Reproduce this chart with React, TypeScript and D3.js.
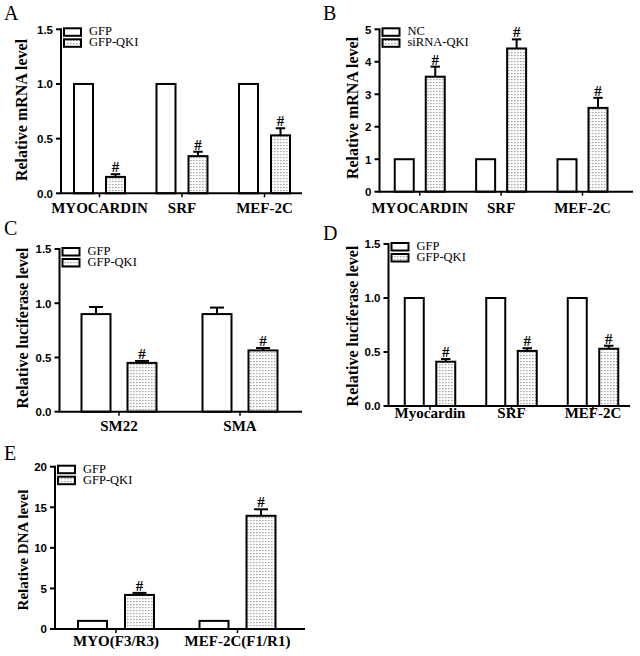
import React from "react";
import * as d3 from "d3";

// ---------- DATA ----------
// Panel A
const catsA = ["MYOCARDIN", "SRF", "MEF-2C"];
const seriesA = ["GFP", "GFP-QKI"];
const ctrlA = [1, 1, 1];
const ctrlErrA = [0, 0, 0];
const trtA = [0.15, 0.34, 0.53];
const trtErrA = [0.025, 0.04, 0.065];
const ticksA = [0, 0.5, 1.0, 1.5];

// Panel B
const catsB = ["MYOCARDIN", "SRF", "MEF-2C"];
const seriesB = ["NC", "siRNA-QKI"];
const ctrlB = [1, 1, 1];
const ctrlErrB = [0, 0, 0];
const trtB = [3.54, 4.41, 2.58];
const trtErrB = [0.31, 0.28, 0.31];
const ticksB = [0, 1, 2, 3, 4, 5];

// Panel C
const catsC = ["SM22", "SMA"];
const seriesC = ["GFP", "GFP-QKI"];
const ctrlC = [0.9, 0.9];
const ctrlErrC = [0.065, 0.06];
const trtC = [0.45, 0.565];
const trtErrC = [0.018, 0.022];
const ticksC = [0, 0.5, 1.0, 1.5];

// Panel D
const catsD = ["Myocardin", "SRF", "MEF-2C"];
const seriesD = ["GFP", "GFP-QKI"];
const ctrlD = [1, 1, 1];
const ctrlErrD = [0, 0, 0];
const trtD = [0.41, 0.51, 0.53];
const trtErrD = [0.025, 0.025, 0.028];
const ticksD = [0, 0.5, 1.0, 1.5];

// Panel E
const catsE = ["MYO(F3/R3)", "MEF-2C(F1/R1)"];
const seriesE = ["GFP", "GFP-QKI"];
const ctrlE = [1, 1];
const ctrlErrE = [0, 0];
const trtE = [4.2, 13.95];
const trtErrE = [0.25, 0.8];
const ticksE = [0, 5, 10, 15, 20];

const SERIF = "'Liberation Serif', 'Times New Roman', serif";
const SANS = "'Liberation Sans', Arial, sans-serif";

type PanelProps = {
  id: string;
  letter: string;
  cats: string[];
  series: string[];
  ctrl: number[];
  ctrlErr: number[];
  trt: number[];
  trtErr: number[];
  ticks: number[];
  tickFmt: (v: number) => string;
  yTitle: string;
  axisX: number;
  axisEnd: number;
  yTopPx: number;
  y0Px: number;
  c0: number;
  cN: number;
  barW: number;
  offset: number;
  letterX: number;
  letterY: number;
  titleX: number;
  titleY: number;
  titleSize: number;
  labelY: number;
};

function Panel(p: PanelProps) {
  const maxT = p.ticks[p.ticks.length - 1];
  const y = d3.scaleLinear().domain([0, maxT]).range([p.y0Px, p.yTopPx]);
  const x = d3.scalePoint<string>().domain(p.cats).range([p.c0, p.cN]);
  const inner = d3
    .scaleBand<string>()
    .domain(p.series)
    .range([-p.offset - p.barW / 2, p.offset + p.barW / 2])
    .paddingInner(1 - p.barW / (2 * p.offset))
    .paddingOuter(0);
  const bw = inner.bandwidth();
  const vals = [p.ctrl, p.trt];
  const errs = [p.ctrlErr, p.trtErr];
  const fills = ["#ffffff", `url(#dots)`];

  return (
    <g>
      <text x={p.letterX} y={p.letterY} fontFamily={SERIF} fontSize={20}>
        {p.letter}
      </text>
      <text
        transform={`translate(${p.titleX},${p.titleY}) rotate(-90)`}
        textAnchor="middle"
        fontFamily={SERIF}
        fontWeight="bold"
        fontSize={p.titleSize}
      >
        {p.yTitle}
      </text>
      {/* bars */}
      {p.cats.map((c, i) =>
        p.series.map((s, k) => {
          const v = vals[k][i];
          const e = errs[k][i];
          const bx = (x(c) as number) + (inner(s) as number);
          const cx = bx + bw / 2;
          const top = y(v);
          const capW = bw * 0.45;
          return (
            <g key={c + s}>
              {e > 0 && (
                <g stroke="#000" strokeWidth={2}>
                  <line x1={cx} x2={cx} y1={top} y2={y(v + e)} />
                  <line x1={cx - capW / 2} x2={cx + capW / 2} y1={y(v + e)} y2={y(v + e)} />
                </g>
              )}
              <rect
                x={bx + 1}
                y={top}
                width={bw - 2}
                height={p.y0Px - top}
                fill={fills[k]}
                stroke="#000"
                strokeWidth={2}
              />
              {k === 1 && (
                <text
                  x={cx}
                  y={y(v + e) - 2}
                  textAnchor="middle"
                  fontFamily={SERIF}
                  fontWeight="bold"
                  fontSize={15}
                >
                  #
                </text>
              )}
            </g>
          );
        })
      )}
      {/* y axis */}
      <line x1={p.axisX} x2={p.axisX} y1={p.yTopPx - 1} y2={p.y0Px} stroke="#000" strokeWidth={2} />
      {p.ticks.map((t) => (
        <g key={t}>
          <line x1={p.axisX - 5} x2={p.axisX} y1={y(t)} y2={y(t)} stroke="#000" strokeWidth={2} />
          <text
            x={p.axisX - 8}
            y={y(t)}
            dy="0.38em"
            textAnchor="end"
            fontFamily={SANS}
            fontWeight="bold"
            fontSize={11.5}
          >
            {p.tickFmt(t)}
          </text>
        </g>
      ))}
      {/* x axis */}
      <line x1={p.axisX - 1} x2={p.axisEnd} y1={p.y0Px} y2={p.y0Px} stroke="#000" strokeWidth={2} />
      {p.cats.map((c) => (
        <g key={c}>
          <line
            x1={x(c) as number}
            x2={x(c) as number}
            y1={p.y0Px}
            y2={p.y0Px + 4}
            stroke="#000"
            strokeWidth={1.5}
          />
          <text
            x={x(c) as number}
            y={p.labelY}
            textAnchor="middle"
            fontFamily={SERIF}
            fontWeight="bold"
            fontSize={15}
          >
            {c}
          </text>
        </g>
      ))}
      {/* legend */}
      {p.series.map((s, k) => (
        <g key={s}>
          <rect
            x={p.axisX + 3}
            y={p.yTopPx - 1 + k * 11}
            width={17}
            height={7.5}
            fill={fills[k]}
            stroke="#000"
            strokeWidth={2}
          />
          <text
            x={p.axisX + 28}
            y={p.yTopPx + 6 + k * 11}
            fontFamily={SERIF}
            fontSize={12.5}
          >
            {s}
          </text>
        </g>
      ))}
    </g>
  );
}

const fmt1 = (v: number) => d3.format(".1f")(v);
const fmt0 = (v: number) => d3.format("d")(v);

export default function App() {
  return (
    <svg
      width={640}
      height={656}
      style={{ position: "absolute", left: 0, top: 0, background: "#fff" }}
    >
      <defs>
        <pattern id="dots" width={3} height={3} patternUnits="userSpaceOnUse">
          <rect width={3} height={3} fill="#fff" />
          <rect x={1} y={1} width={1.6} height={1.2} fill="#a8a8a8" />
        </pattern>
      </defs>
      <rect width={640} height={656} fill="#fff" />
      <Panel
        id="A" letter="A" cats={catsA} series={seriesA}
        ctrl={ctrlA} ctrlErr={ctrlErrA} trt={trtA} trtErr={trtErrA}
        ticks={ticksA} tickFmt={fmt1} yTitle="Relative mRNA level"
        axisX={61} axisEnd={302} yTopPx={29.3} y0Px={193.3}
        c0={99.5} cN={264.5} barW={21} offset={16}
        letterX={4} letterY={20} titleX={27} titleY={110} titleSize={16} labelY={213}
      />
      <Panel
        id="B" letter="B" cats={catsB} series={seriesB}
        ctrl={ctrlB} ctrlErr={ctrlErrB} trt={trtB} trtErr={trtErrB}
        ticks={ticksB} tickFmt={fmt0} yTitle="Relative mRNA level"
        axisX={379.5} axisEnd={633} yTopPx={29.3} y0Px={191.7}
        c0={419.75} cN={582.5} barW={21} offset={15.5}
        letterX={323} letterY={20} titleX={358} titleY={108} titleSize={16} labelY={213}
      />
      <Panel
        id="C" letter="C" cats={catsC} series={seriesC}
        ctrl={ctrlC} ctrlErr={ctrlErrC} trt={trtC} trtErr={trtErrC}
        ticks={ticksC} tickFmt={fmt1} yTitle="Relative luciferase level"
        axisX={59.5} axisEnd={302} yTopPx={249} y0Px={411.7}
        c0={119} cN={240} barW={31} offset={23}
        letterX={4} letterY={235} titleX={28} titleY={328} titleSize={16} labelY={431}
      />
      <Panel
        id="D" letter="D" cats={catsD} series={seriesD}
        ctrl={ctrlD} ctrlErr={ctrlErrD} trt={trtD} trtErr={trtErrD}
        ticks={ticksD} tickFmt={fmt1} yTitle="Relative luciferase level"
        axisX={388.5} axisEnd={630} yTopPx={244} y0Px={406}
        c0={430} cN={593} barW={21} offset={15.75}
        letterX={323} letterY={240} titleX={358} titleY={326} titleSize={16} labelY={418}
      />
      <Panel
        id="E" letter="E" cats={catsE} series={seriesE}
        ctrl={ctrlE} ctrlErr={ctrlErrE} trt={trtE} trtErr={trtErrE}
        ticks={ticksE} tickFmt={fmt0} yTitle="Relative DNA level"
        axisX={55} axisEnd={305} yTopPx={466.7} y0Px={629}
        c0={116} cN={237.5} barW={31} offset={23.5}
        letterX={4} letterY={460} titleX={28} titleY={550} titleSize={15} labelY={646}
      />
    </svg>
  );
}
